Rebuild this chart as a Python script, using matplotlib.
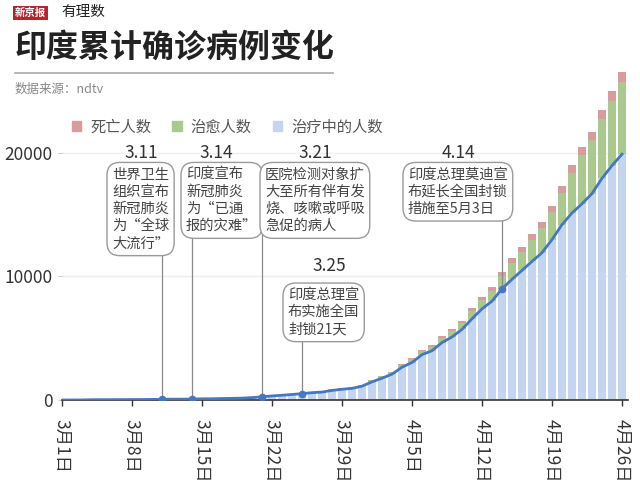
import numpy as np
import matplotlib
matplotlib.use('Agg')
import matplotlib.pyplot as plt
from matplotlib.patches import Patch
from matplotlib.lines import Line2D

plt.rcParams['font.family'] = ['Noto Sans CJK SC', 'DejaVu Sans']

# daily values 3/1 .. 4/26
active = [0, 2, 3, 25, 27, 28, 31, 36, 40, 47,
          59, 68, 69, 72, 95, 99, 120, 134, 149, 196,
          256, 329, 384, 446, 512, 593, 640, 775, 867, 942,
          1117, 1466, 1764, 2088, 2650, 3030, 3666, 3981, 4643, 5095,
          5709, 6565, 7367, 7987, 8988, 9756, 10477, 11201, 11906, 12974,
          14175, 15122, 15859, 16689, 17915, 18953, 19868]
cured = [3, 3, 3, 3, 3, 3, 3, 3, 3, 3,
         3, 4, 10, 10, 10, 13, 14, 14, 20, 23,
         23, 24, 24, 37, 40, 43, 67, 79, 87, 100,
         102, 133, 151, 157, 184, 267, 292, 326, 402, 473,
         504, 643, 716, 857, 1036, 1306, 1489, 1749, 1992, 2231,
         2547, 3260, 3960, 4325, 4814, 5210, 5804]
deaths = [0, 0, 0, 0, 0, 0, 0, 0, 0, 0,
          0, 1, 2, 2, 2, 2, 3, 3, 4, 4,
          4, 7, 7, 9, 10, 13, 17, 19, 25, 29,
          32, 38, 50, 56, 68, 77, 109, 114, 149, 166,
          199, 239, 273, 308, 339, 377, 414, 437, 480, 507,
          543, 603, 652, 686, 723, 779, 824]

tick_days = [0, 7, 14, 21, 28, 35, 42, 49, 56]
tick_labels = ['3月1日', '3月8日', '3月15日', '3月22日', '3月29日',
               '4月5日', '4月12日', '4月19日', '4月26日']

event_days = [10, 13, 20, 24, 44]
event_dates = ['3.11', '3.14', '3.21', '3.25', '4.14']
event_texts = ['世界卫生\n组织宣布\n新冠肺炎\n为“全球\n大流行”',
               '印度宣布\n新冠肺炎\n为“已通\n报的灾难”',
               '医院检测对象扩\n大至所有伴有发\n烧、咳嗽或呼吸\n急促的病人',
               '印度总理宣\n布实施全国\n封锁21天',
               '印度总理莫迪宣\n布延长全国封锁\n措施至5月3日']

c_blue = '#c4d6ef'
c_green = '#a9c98f'
c_red = '#d99c9c'
c_line = '#4677c2'

fig = plt.figure(figsize=(6.4, 4.93), dpi=100)
ax = fig.add_axes([62/640, 93/493, 566/640, 334/493])

x = np.arange(len(active))
active = np.array(active)
cured = np.array(cured)
deaths = np.array(deaths)

ax.bar(x, active, width=0.72, color=c_blue, zorder=2)
ax.bar(x, cured, width=0.72, bottom=active, color=c_green, zorder=2)
ax.bar(x, deaths, width=0.72, bottom=active + cured, color=c_red, zorder=2)
ax.plot(x, active, color=c_line, lw=2, zorder=3)

# event callouts
box_pos = [(5.0, 18800), (12.4, 18800), (20.3, 18800), (22.6, 9050), (34.6, 18800)]
label_pos = [(7.9, 20000), (15.4, 20000), (25.3, 20000), (26.7, 10830), (39.6, 20000)]
for d, lab, txt, bp, lp in zip(event_days, event_dates, event_texts, box_pos, label_pos):
    ax.vlines(d, active[d], bp[1] - 3000, color='#8a8a8a', lw=0.9, zorder=4)
    ax.plot(d, active[d], 'o', ms=4.5, color=c_line, zorder=6)
    ax.text(bp[0], bp[1], txt, ha='left', va='top', fontsize=10.3, linespacing=1.3,
            color='#444444', zorder=5,
            bbox=dict(boxstyle='round,pad=0.35,rounding_size=0.9', fc='white',
                      ec='#9a9a9a', lw=1))
    ax.text(lp[0], lp[1], lab, ha='center', va='center', fontsize=12.5, color='#333333')

ax.set_xlim(0, 56.6)
ax.set_ylim(0, 27000)
ax.set_yticks([0, 10000, 20000])
ax.set_yticklabels(['0', '10000', '20000'])
ax.set_xticks(tick_days)
ax.set_xticklabels(tick_labels, rotation=-90, fontsize=12.5, color='#333333')
ax.tick_params(axis='y', labelsize=12.5, labelcolor='#333333', length=3, color='#cccccc', pad=4)
ax.tick_params(axis='x', length=4, width=1, color='#333333', pad=10)
ax.grid(axis='y', color='#eeeeee', lw=1, zorder=0)
for s in ['top', 'right', 'left']:
    ax.spines[s].set_visible(False)
ax.spines['bottom'].set_color('#333333')
ax.spines['bottom'].set_linewidth(1.2)

# legend
handles = [Patch(color=c_red, label='死亡人数'),
           Patch(color=c_green, label='治愈人数'),
           Patch(color=c_blue, label='治疗中的人数')]
fig.legend(handles=handles, loc='center left', bbox_to_anchor=(58/640, 1 - 127/493),
           ncol=3, frameon=False, fontsize=11, handlelength=0.6, handleheight=0.6,
           handletextpad=0.6, columnspacing=1.4, labelcolor='#555555')

# header
fig.text(15/640, 1 - 13/493, '新京报', fontsize=7.5, weight='bold', color='white', va='center',
         bbox=dict(boxstyle='square,pad=0.15', fc='#b0282c', ec='none'))
fig.text(61/640, 1 - 12/493, '有理数', fontsize=10.5, color='#222222', va='center', style='italic')
fig.text(15/640, 1 - 48/493, '印度累计确诊病例变化', fontsize=23, weight='bold',
         color='#222222', va='center')
fig.add_artist(Line2D([15/640, 333/640], [1 - 72.5/493, 1 - 72.5/493],
                      color='#aaaaaa', lw=1.2))
fig.text(15/640, 1 - 89/493, '数据来源：ndtv', fontsize=9, color='#888888', va='center')

fig.savefig('out.png', dpi=100)
